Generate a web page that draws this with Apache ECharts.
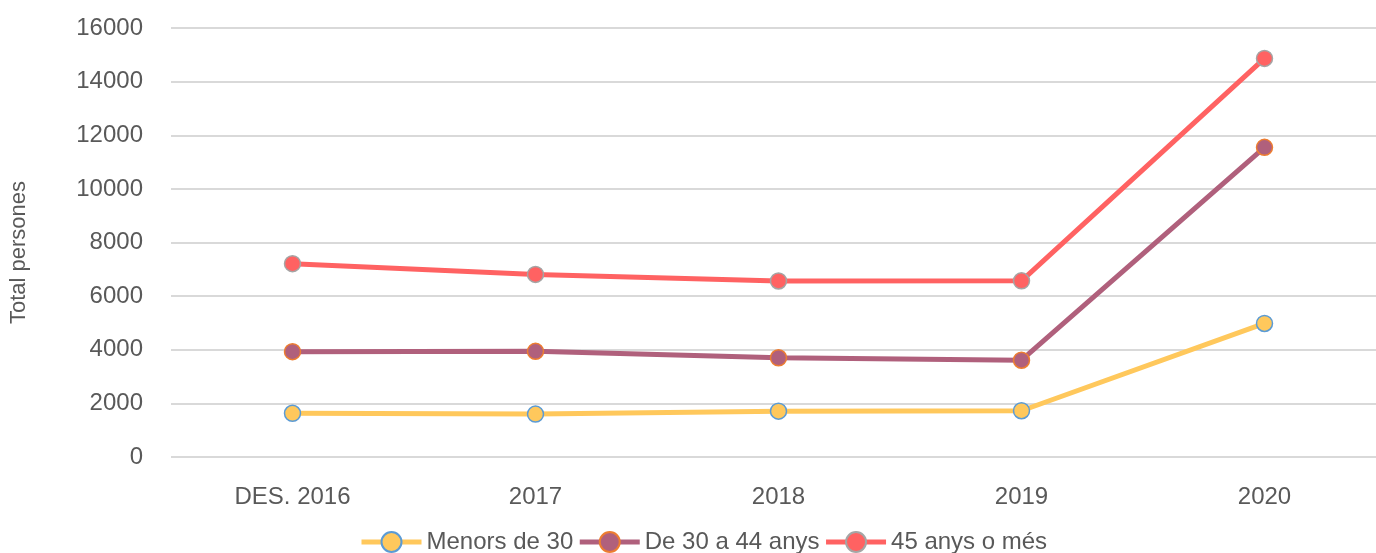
<!DOCTYPE html>
<html>
<head>
<meta charset="utf-8">
<script src="https://cdn.jsdelivr.net/npm/echarts@6/dist/echarts.min.js"></script>
<style>
  html, body { margin: 0; padding: 0; background: #fff; }
  #chart { width: 1376px; height: 553px; }
</style>
</head>
<body>
<div id="chart"></div>
<script>
const categories = ['DES. 2016', '2017', '2018', '2019', '2020'];
const menors30 = [1630, 1600, 1710, 1725, 4980];
const de30a44 = [3930, 3940, 3700, 3610, 11550];
const anys45 = [7210, 6810, 6565, 6570, 14865];
const seriesNames = ['Menors de 30', 'De 30 a 44 anys', '45 anys o més'];
const yTicks = { min: 0, max: 16000, interval: 2000 };

const lineColors = ['#FFC85C', '#B0607C', '#FF6262'];
const borderColors = ['#5B9BD5', '#ED7D31', '#A5A5A5'];
const dataSets = [menors30, de30a44, anys45];

const chart = echarts.init(document.getElementById('chart'));
const font = '"Liberation Sans", Arial, sans-serif';
chart.setOption({
  animation: false,
  grid: { left: 171, top: 28, width: 1215, height: 429, containLabel: false, outerBoundsMode: 'none' },
  xAxis: {
    type: 'category',
    data: categories,
    boundaryGap: true,
    axisLine: { show: false },
    axisTick: { show: false },
    axisLabel: { color: '#595959', fontSize: 24, fontFamily: font, margin: 28 }
  },
  yAxis: {
    type: 'value',
    min: yTicks.min, max: yTicks.max, interval: yTicks.interval,
    name: 'Total persones',
    nameLocation: 'middle',
    nameGap: 141,
    nameRotate: 90,
    nameTextStyle: { color: '#595959', fontSize: 22, fontFamily: font, padding: [0, 20, 0, 0] },
    axisLine: { show: false },
    axisTick: { show: false },
    axisLabel: { color: '#595959', fontSize: 24, fontFamily: font, margin: 28, formatter: v => String(v) },
    splitLine: { lineStyle: { color: '#D9D9D9', width: 2 } }
  },
  legend: {
    bottom: -6,
    left: 354,
    itemWidth: 60,
    itemHeight: 25,
    itemGap: 4,
    lineStyle: { width: 5 },
    textStyle: { color: '#595959', fontSize: 24, fontFamily: font },
    data: seriesNames
  },
  series: dataSets.map((d, i) => ({
    name: seriesNames[i],
    type: 'line',
    data: d,
    symbol: 'circle',
    symbolSize: 16,
    lineStyle: { color: lineColors[i], width: 5 },
    itemStyle: { color: lineColors[i], borderColor: borderColors[i], borderWidth: 1.5 }
  }))
});
</script>
</body>
</html>
